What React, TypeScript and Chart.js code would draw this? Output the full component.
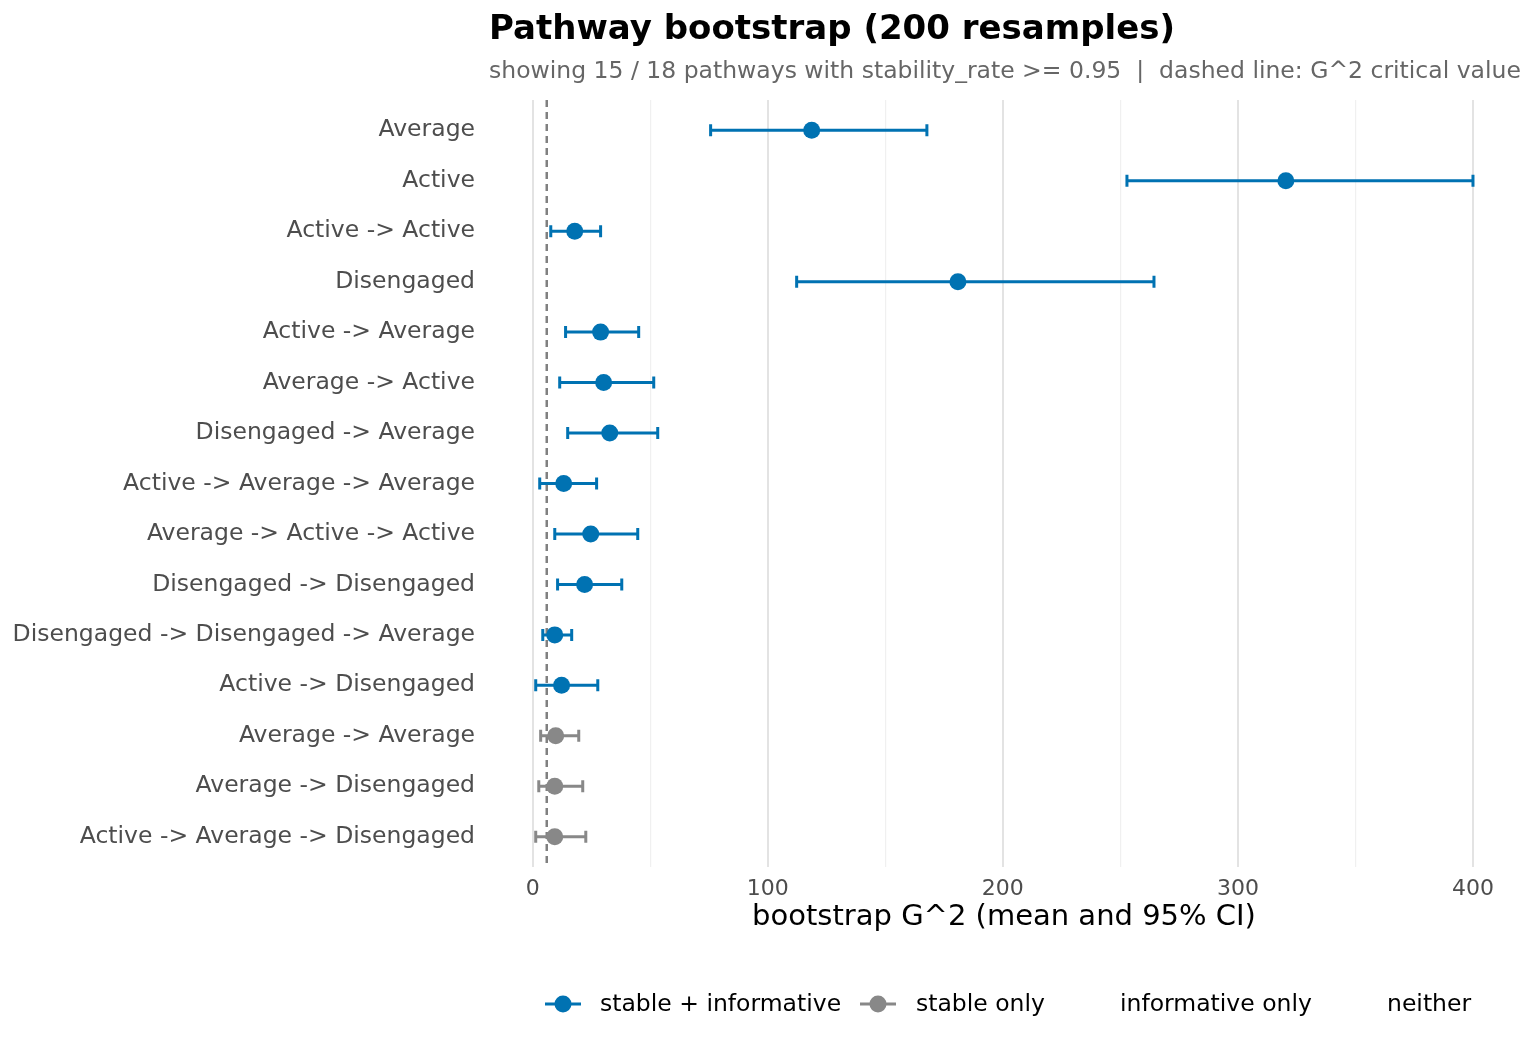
import React, { useEffect, useRef } from "react";
import { Chart, registerables } from "chart.js";
Chart.register(...registerables);

const pathways = [
  "Average", "Active", "Active -> Active", "Disengaged", "Active -> Average",
  "Average -> Active", "Disengaged -> Average", "Active -> Average -> Average",
  "Average -> Active -> Active", "Disengaged -> Disengaged",
  "Disengaged -> Disengaged -> Average", "Active -> Disengaged",
  "Average -> Average", "Average -> Disengaged", "Active -> Average -> Disengaged",
];
const means = [118.7, 320.4, 17.9, 180.9, 28.9, 30.2, 32.8, 13.2, 24.7, 22.1, 9.4, 12.3, 9.8, 9.4, 9.4];
const lows = [75.7, 252.8, 7.7, 112.3, 14.0, 11.5, 14.9, 3.0, 9.4, 10.6, 4.3, 1.3, 3.4, 2.6, 1.3];
const highs = [167.7, 400.0, 28.9, 264.3, 45.1, 51.5, 53.2, 27.2, 44.7, 37.9, 16.6, 27.7, 19.6, 21.3, 22.6];
const groups = ["si", "si", "si", "si", "si", "si", "si", "si", "si", "si", "si", "si", "s", "s", "s"];
const criticalValue = 5.99;
const legendLabels = ["stable + informative", "stable only", "informative only", "neither"];

const BLUE = "#0072B2";
const GRAY = "#888888";
const FONT = "'DejaVu Sans', sans-serif";

export default function App() {
  const ref = useRef<HTMLCanvasElement>(null);
  useEffect(() => {
    const colorOf = (g: string) => (g === "si" ? BLUE : GRAY);
    const n = pathways.length;
    const pts = means.map((m, i) => ({ x: m, y: i + 1 }));
    const overlay = {
      id: "overlay",
      beforeDatasetsDraw(chart: any) {
        const { ctx, scales, chartArea } = chart;
        const xs = scales.x, ys = scales.y;
        ctx.save();
        ctx.strokeStyle = "#808080";
        ctx.lineWidth = 2.5;
        ctx.setLineDash([7, 5]);
        const cx = xs.getPixelForValue(criticalValue);
        ctx.beginPath();
        ctx.moveTo(cx, chartArea.top);
        ctx.lineTo(cx, chartArea.bottom);
        ctx.stroke();
        ctx.setLineDash([]);
        ctx.lineWidth = 3;
        for (let i = 0; i < n; i++) {
          const y = ys.getPixelForValue(i + 1);
          const x1 = xs.getPixelForValue(lows[i]);
          const x2 = xs.getPixelForValue(highs[i]);
          ctx.strokeStyle = colorOf(groups[i]);
          ctx.beginPath();
          ctx.moveTo(x1, y); ctx.lineTo(x2, y);
          ctx.moveTo(x1, y - 6); ctx.lineTo(x1, y + 6);
          ctx.moveTo(x2, y - 6); ctx.lineTo(x2, y + 6);
          ctx.stroke();
        }
        ctx.restore();
      },
      afterDraw(chart: any) {
        const { ctx } = chart;
        ctx.save();
        ctx.textBaseline = "middle";
        ctx.fillStyle = "#000";
        ctx.font = `bold 34px ${FONT}`;
        ctx.fillText("Pathway bootstrap (200 resamples)", 489, 30);
        ctx.fillStyle = "#666";
        ctx.font = `23.5px ${FONT}`;
        ctx.fillText("showing 15 / 18 pathways with stability_rate >= 0.95  |  dashed line: G^2 critical value", 489, 72);
        const ly = 1004;
        const sym = (x: number, c: string) => {
          ctx.strokeStyle = c; ctx.fillStyle = c; ctx.lineWidth = 3;
          ctx.beginPath(); ctx.moveTo(x, ly); ctx.lineTo(x + 36, ly); ctx.stroke();
          ctx.beginPath(); ctx.arc(x + 18, ly, 8.5, 0, Math.PI * 2); ctx.fill();
        };
        sym(545, BLUE); sym(860, GRAY);
        ctx.fillStyle = "#000";
        ctx.font = `23.5px ${FONT}`;
        const xsL = [600, 916, 1120, 1387];
        legendLabels.forEach((t, i) => ctx.fillText(t, xsL[i], ly + 1));
        ctx.restore();
      },
    };
    const chart = new Chart(ref.current!, {
      type: "scatter",
      data: {
        datasets: [{
          data: pts,
          pointRadius: 8.5,
          pointHoverRadius: 8.5,
          pointBackgroundColor: groups.map(colorOf),
          pointBorderColor: groups.map(colorOf),
          pointBorderWidth: 0,
        }],
      },
      plugins: [overlay],
      options: {
        animation: false,
        responsive: false,
        layout: { padding: { top: 100, right: 16, bottom: 121, left: 0 } },
        plugins: { legend: { display: false }, tooltip: { enabled: false } },
        scales: {
          x: {
            type: "linear", min: -19, max: 420,
            afterBuildTicks: (s: any) => { s.ticks = [0, 50, 100, 150, 200, 250, 300, 350, 400].map(v => ({ value: v })); },
            afterFit: (s: any) => { s.height = 68; },
            border: { display: false },
            grid: {
              color: (c: any) => (c.tick && c.tick.value % 100 === 0 ? "#e3e3e3" : "#f0f0f0"),
              lineWidth: (c: any) => (c.tick && c.tick.value % 100 === 0 ? 2 : 1.2),
              drawTicks: false,
            },
            ticks: {
              padding: 9,
              color: "#4d4d4d",
              font: { family: FONT, size: 22 },
              callback: (v: any) => (v % 100 === 0 ? String(v) : ""),
            },
            title: { display: true, text: "bootstrap G^2 (mean and 95% CI)", color: "#000", font: { family: FONT, size: 29 }, padding: { top: 0, bottom: 0 } },
          },
          y: {
            type: "linear", min: 0.4, max: n + 0.6, reverse: true,
            afterBuildTicks: (s: any) => { s.ticks = pathways.map((_, i) => ({ value: i + 1 })); },
            afterFit: (s: any) => { s.width = 488; },
            border: { display: false },
            grid: { display: false },
            ticks: {
              padding: 5,
              color: "#4d4d4d",
              font: { family: FONT, size: 23.5 },
              callback: (v: any) => pathways[Math.round(v) - 1] ?? "",
            },
          },
        },
      },
    });
    return () => chart.destroy();
  }, []);
  return (
    <div style={{ position: "absolute", left: 0, top: 0, width: 1536, height: 1056, background: "#fff" }}>
      <canvas ref={ref} width={1536} height={1056} style={{ width: 1536, height: 1056 }} />
    </div>
  );
}
